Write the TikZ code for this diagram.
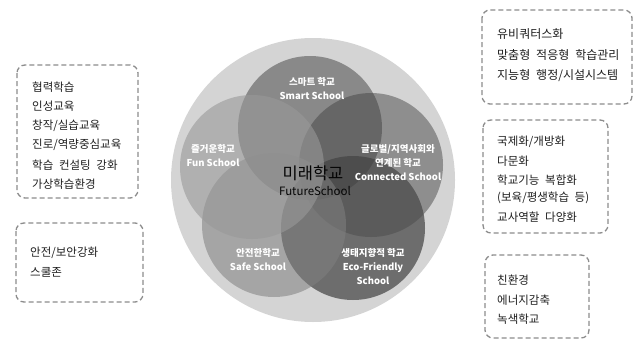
\documentclass[tikz,border=0pt]{standalone}
\usepackage{fontspec}
\setmainfont{Noto Sans CJK KR}
\newfontfamily\krfont[WordSpace=2.2]{Noto Sans CJK KR}
\definecolor{bigc}{RGB}{212,212,212}
\definecolor{ecoc}{RGB}{26,26,26}
\definecolor{connc}{RGB}{74,74,74}
\definecolor{smartc}{RGB}{64,64,64}
\definecolor{safec}{RGB}{128,128,128}
\definecolor{func}{RGB}{153,153,153}
\definecolor{boxline}{RGB}{140,140,140}
\definecolor{boxtext}{RGB}{30,30,30}
\definecolor{centertext}{RGB}{5,5,5}
\tikzset{
  dashbox/.style={draw=boxline, dash pattern=on 5pt off 3pt, line width=1.3pt, rounded corners=8pt},
  item/.style={anchor=west, inner sep=0pt, text=boxtext, font=\krfont\fontsize{11.5}{12}\selectfont},
  ring/.style={circle, minimum size=144pt, inner sep=0pt},
  clabel/.style={align=center, text=white, font=\bfseries\fontsize{9.5}{14}\selectfont, inner sep=0pt},
  ctext/.style={inner sep=0pt, text opacity=1, text=centertext}
}
\begin{document}
\begin{tikzpicture}[x=1pt,y=-1pt]
\useasboundingbox (0,0) rectangle (634,340);
% big circle
\node[circle, minimum size=284pt, inner sep=0pt, fill=bigc] (big) at (313,180) {};
% five circles
\node[ring, fill=ecoc, fill opacity=0.55] (eco) at (353,228) {};
\node[ring, fill=connc, fill opacity=0.5] (conn) at (371,165) {};
\node[ring, fill=smartc, fill opacity=0.5] (smart) at (310,128) {};
\node[ring, fill=safec, fill opacity=0.55] (safe) at (274,225) {};
\node[ring, fill=func, fill opacity=0.6] (fun) at (252,167) {};
% center text
\node[ctext, font=\krfont\fontsize{16.5}{18}\selectfont] (mirae) at (313,173) {미래학교};
\node[ctext, font=\krfont\fontsize{11.5}{13}\selectfont] (future) at (315,191) {FutureSchool};
% labels
\node[clabel] (lsmart) at (312,89) {스마트 학교\\Smart School};
\node[clabel] (lfun) at (213,156) {즐거운학교\\Fun School};
\node[clabel] (lconn) at (398,163) {글로벌/지역사회와\\연계된 학교\\Connected School};
\node[clabel] (lsafe) at (258,260) {안전한학교\\Safe School};
\node[clabel] (leco) at (373,267) {생태지향적 학교\\Eco-Friendly\\School};
% boxes
\draw[dashbox] (17,65) rectangle (138,198);
\node[item] (a1) at (32,87) {협력학습};
\node[item] (a2) at (32,106) {인성교육};
\node[item] (a3) at (32,126) {창작/실습교육};
\node[item] (a4) at (32,145) {진로/역량중심교육};
\node[item] (a5) at (32,165) {학습 컨설팅 강화};
\node[item] (a6) at (32,184) {가상학습환경};

\draw[dashbox] (16,223) rectangle (143,302);
\node[item] (b1) at (30,253) {안전/보안강화};
\node[item] (b2) at (30,272) {스쿨존};

\draw[dashbox] (482,10) rectangle (632,104);
\node[item, font=\krfont\fontsize{12}{13}\selectfont] (c1) at (497,34) {유비쿼터스화};
\node[item, font=\krfont\fontsize{12}{13}\selectfont] (c2) at (497,55) {맞춤형 적응형 학습관리};
\node[item, font=\krfont\fontsize{12}{13}\selectfont] (c3) at (497,76) {지능형 행정/시설시스템};

\draw[dashbox] (483,120) rectangle (608,233);
\node[item] (d1) at (497,142) {국제화/개방화};
\node[item] (d2) at (497,161) {다문화};
\node[item] (d3) at (497,180) {학교기능 복합화};
\node[item] (d4) at (497,198) {(보육/평생학습 등)};
\node[item] (d5) at (497,217) {교사역할 다양화};

\draw[dashbox] (485,255) rectangle (589,338);
\node[item] (e1) at (497,280) {친환경};
\node[item] (e2) at (497,300) {에너지감축};
\node[item] (e3) at (497,319) {녹색학교};
\end{tikzpicture}
\end{document}
